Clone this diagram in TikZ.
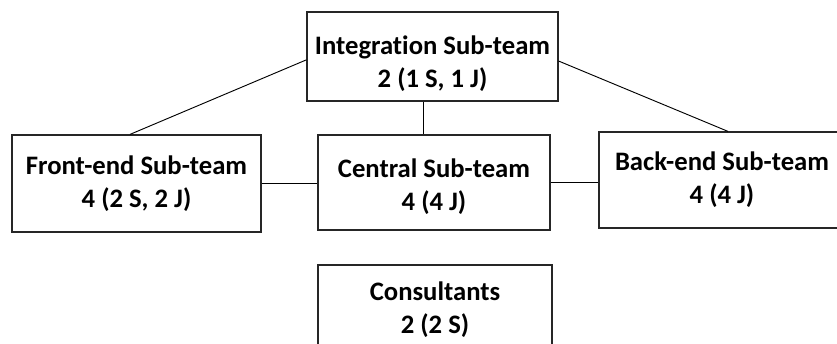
\documentclass[tikz,border=0pt]{standalone}
\usepackage{fontspec}
\setmainfont[Ligatures={NoCommon}]{Carlito}
\usetikzlibrary{positioning}

\begin{document}
\begin{tikzpicture}[x=0.75pt, y=-0.75pt,
    team/.style={draw=black!85, line width=0.9pt, inner sep=0pt},
    lbl/.style={align=center, font=\bfseries\fontsize{20}{24.75}\selectfont}]
  \clip (0,0) rectangle (837,343);

  \node[team, minimum width=188.25pt, minimum height=66.75pt,
        label={[lbl, yshift=-5.25pt]center:{Integration Sub-team\\2 (1 S, 1 J)}}] (integ) at (432.5,56.5) {};
  \node[team, minimum width=186.75pt, minimum height=72.75pt,
        label={[lbl]center:{Front-end Sub-team\\4 (2 S, 2 J)}}] (front) at (136.5,183.5) {};
  \node[team, minimum width=174pt, minimum height=71.25pt,
        label={[lbl, yshift=-3.4pt]center:{Central Sub-team\\4 (4 J)}}] (central) at (434,182.5) {};
  \node[team, minimum width=184.5pt, minimum height=72pt,
        label={[lbl]center:{Back-end Sub-team\\4 (4 J)}}] (back) at (722,180) {};
  \node[team, minimum width=175.5pt, minimum height=67.5pt,
        label={[lbl]center:{Consultants\\2 (2 S)}}] (consult) at (435,310) {};

  % links
  \draw[line width=0.7pt] ([yshift=-2.5pt]integ.west) -- ([xshift=-4.9pt]front.north);
  \draw[line width=0.7pt] ([yshift=-3.4pt]integ.east) -- ([xshift=4.5pt]back.north);
  \draw[line width=0.7pt] ([xshift=-6.75pt]integ.south) -- ([xshift=-6.75pt]integ.south |- central.north);
  \draw[line width=0.7pt] (front.east) -- (front.east -| central.west);
  \draw[line width=0.7pt] (central.east) -- (central.east -| back.west);
\end{tikzpicture}
\end{document}
